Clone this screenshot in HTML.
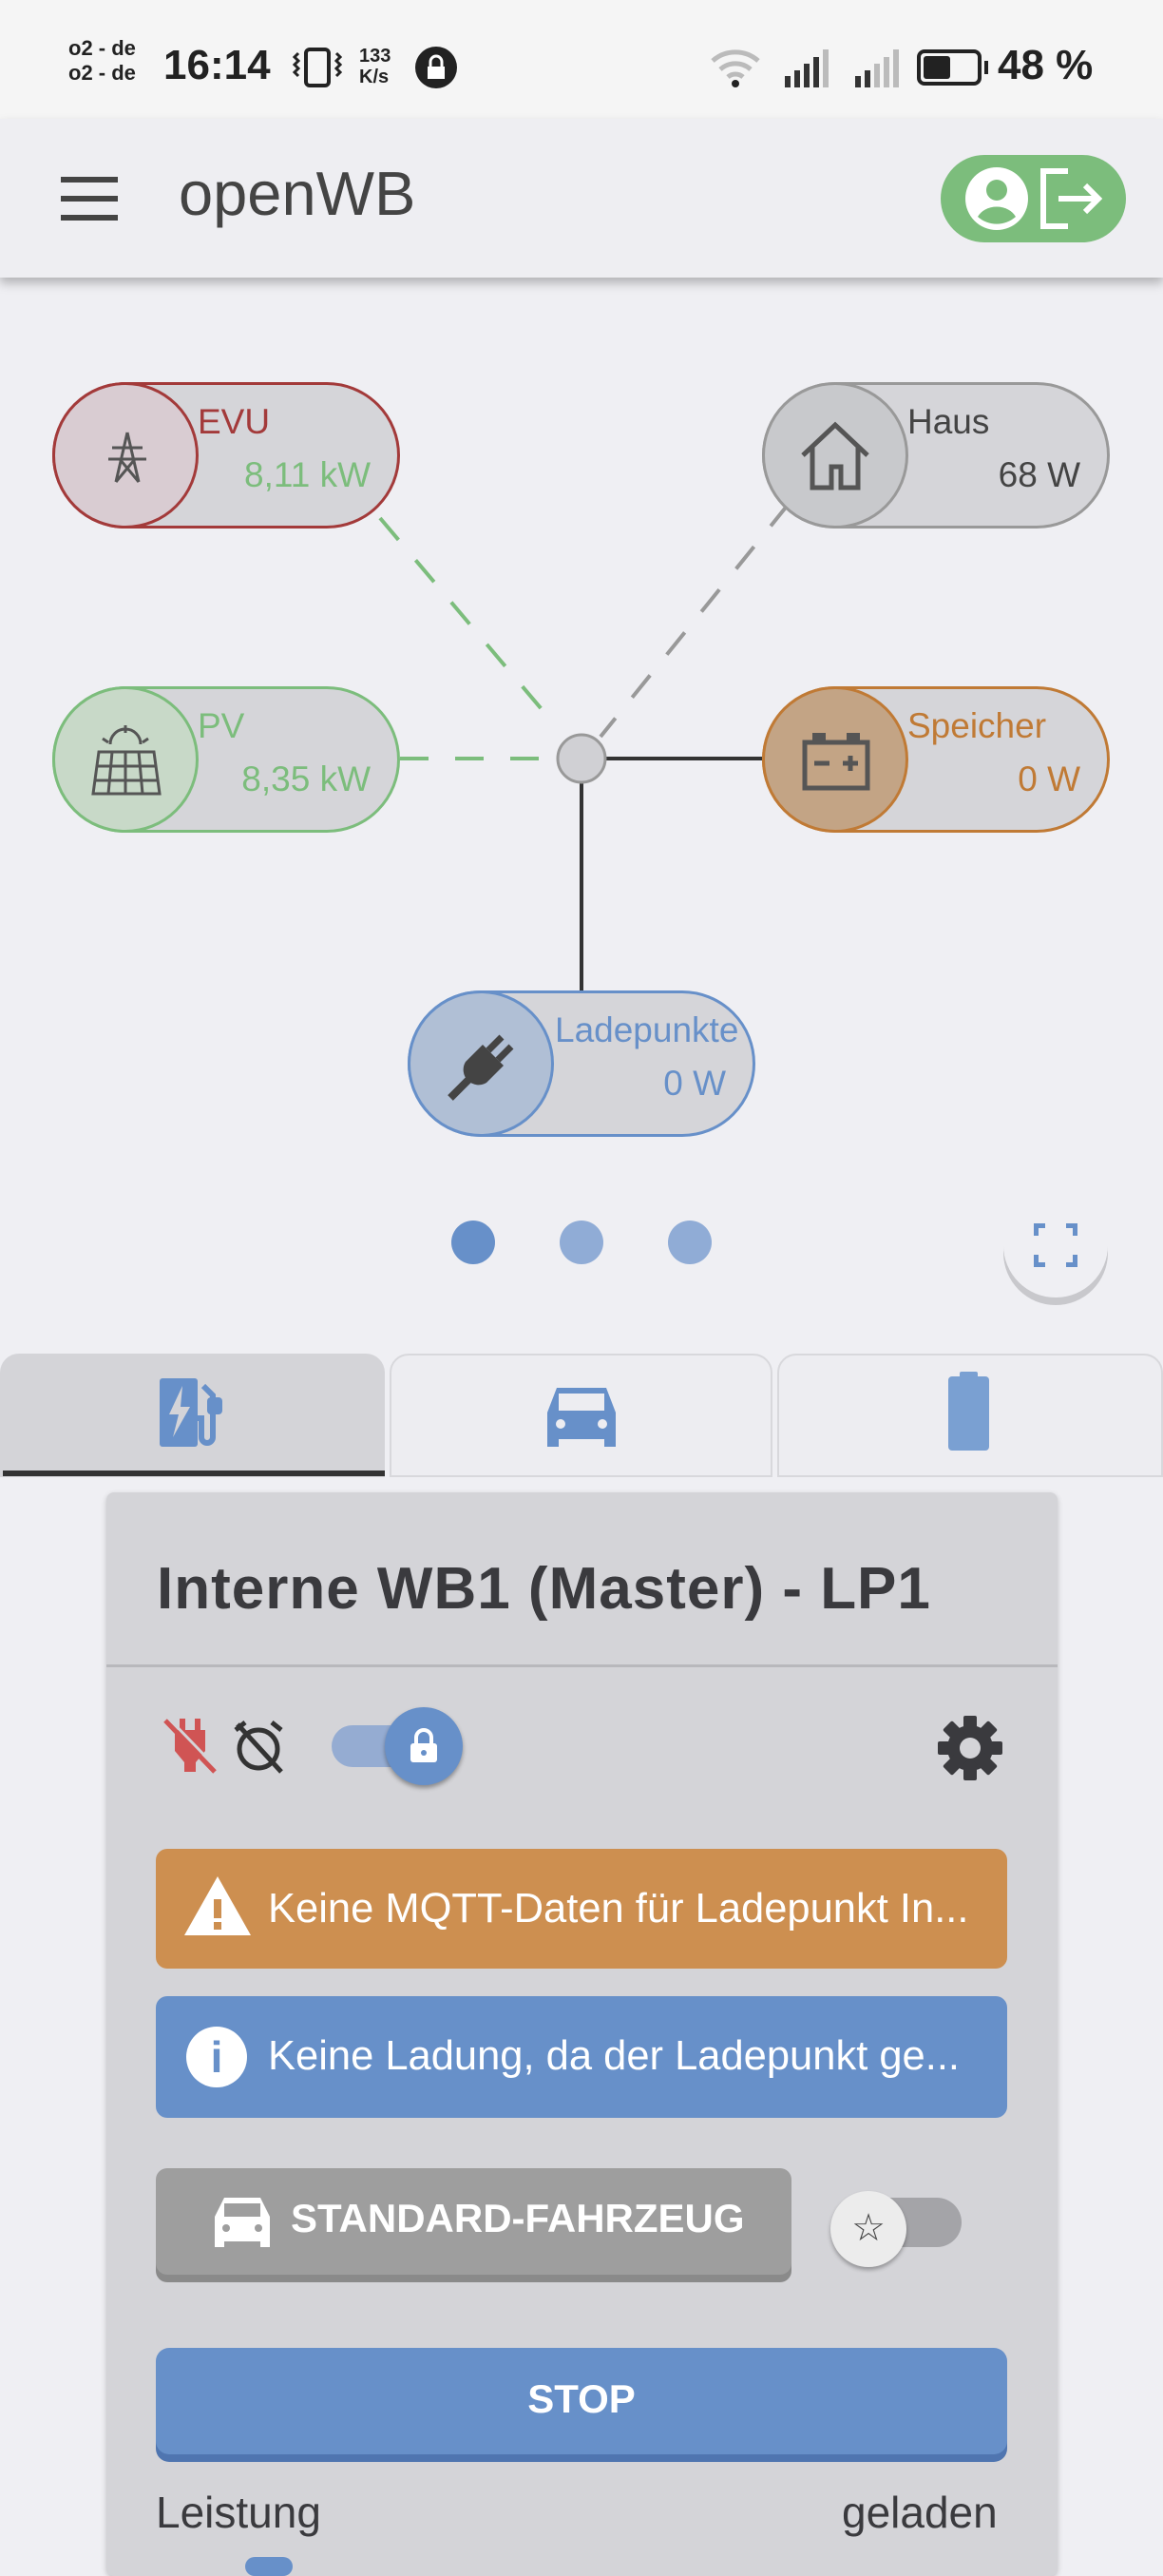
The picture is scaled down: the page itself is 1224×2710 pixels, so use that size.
<!DOCTYPE html>
<html><head><meta charset="utf-8"><style>
*{margin:0;padding:0;box-sizing:border-box}
body{width:1224px;height:2700px;overflow:hidden;background:#efeff3;font-family:"Liberation Sans",sans-serif;position:relative}
.abs{position:absolute}
.node{position:absolute;width:366px;height:154px;border-radius:77px;background:#d5d5d9;border:3px solid}
.node .c{position:absolute;left:-3px;top:-3px;width:154px;height:154px;border-radius:50%;border:3px solid}
.node .t{position:absolute;left:150px;top:18px;font-size:37px}
.node .v{position:absolute;right:28px;top:74px;font-size:37px}
.node svg{position:absolute}
.dot{position:absolute;width:46px;height:46px;border-radius:50%;top:1284px}
</style></head><body>
<!-- status bar -->
<div class="abs" style="left:0;top:0;width:1224px;height:125px;background:#f5f5f5"></div>
<div class="abs" style="left:72px;top:38px;font-size:22px;font-weight:bold;color:#222;line-height:26px">o2 - de<br>o2 - de</div>
<div class="abs" style="left:172px;top:44px;font-size:44px;font-weight:bold;color:#222">16:14</div>
<svg class="abs" style="left:308px;top:48px" width="52" height="46"><rect x="14" y="4" width="24" height="38" rx="4" fill="none" stroke="#222" stroke-width="4"/><path d="M6 8 l-4 4 4 4 -4 4 4 4 -4 4 4 4 M46 8 l4 4 -4 4 4 4 -4 4 4 4 -4 4" stroke="#222" stroke-width="3" fill="none"/></svg>
<div class="abs" style="left:378px;top:48px;font-size:20px;font-weight:bold;color:#222;line-height:22px">133<br>K/s</div>
<svg class="abs" style="left:436px;top:48px" width="46" height="46"><circle cx="23" cy="23" r="22" fill="#222"/><rect x="14" y="22" width="18" height="13" fill="#fff"/><path d="M17 22 v-5 a6 6 0 0 1 12 0 v5" stroke="#fff" stroke-width="3" fill="none"/></svg>
<svg class="abs" style="left:746px;top:48px" width="60" height="46"><path d="M4 16 a36 36 0 0 1 48 0 M12 25 a24 24 0 0 1 32 0 M20 33 a12 12 0 0 1 16 0" stroke="#bbb" stroke-width="5" fill="none"/><circle cx="28" cy="40" r="4" fill="#222"/></svg>
<svg class="abs" style="left:824px;top:50px" width="50" height="44"><rect x="2" y="30" width="6" height="12" fill="#333"/><rect x="12" y="24" width="6" height="18" fill="#333"/><rect x="22" y="17" width="6" height="25" fill="#333"/><rect x="32" y="10" width="6" height="32" fill="#333"/><rect x="42" y="2" width="6" height="40" fill="#bbb"/></svg>
<svg class="abs" style="left:898px;top:50px" width="50" height="44"><rect x="2" y="30" width="6" height="12" fill="#333"/><rect x="12" y="24" width="6" height="18" fill="#333"/><rect x="22" y="17" width="6" height="25" fill="#bbb"/><rect x="32" y="10" width="6" height="32" fill="#bbb"/><rect x="42" y="2" width="6" height="40" fill="#bbb"/></svg>
<div class="abs" style="left:965px;top:52px;width:68px;height:38px;border:4px solid #222;border-radius:8px"></div>
<div class="abs" style="left:972px;top:59px;width:28px;height:24px;background:#222;border-radius:3px"></div>
<div class="abs" style="left:1036px;top:64px;width:4px;height:14px;background:#222"></div>
<div class="abs" style="left:1050px;top:44px;font-size:44px;font-weight:bold;color:#222">48 %</div>
<!-- app bar -->
<div class="abs" style="left:0;top:125px;width:1224px;height:167px;background:#eeeef2;box-shadow:0 6px 10px rgba(0,0,0,0.25)"></div>
<div class="abs" style="left:64px;top:186px;width:60px;height:6px;background:#444"></div>
<div class="abs" style="left:64px;top:206px;width:60px;height:6px;background:#444"></div>
<div class="abs" style="left:64px;top:226px;width:60px;height:6px;background:#444"></div>
<div class="abs" style="left:188px;top:166px;font-size:65px;color:#444">openWB</div>
<div class="abs" style="left:990px;top:163px;width:195px;height:92px;border-radius:46px;background:#7cbd7c"></div>
<svg class="abs" style="left:1014px;top:174px" width="70" height="70"><circle cx="35" cy="35" r="33" fill="#fff"/><circle cx="35" cy="26" r="11" fill="#7cbd7c"/><path d="M15 54 a22 18 0 0 1 40 0 a30 30 0 0 1 -40 0z" fill="#7cbd7c"/></svg>
<svg class="abs" style="left:1094px;top:176px" width="70" height="66"><path d="M30 4 H4 V62 H30" stroke="#fff" stroke-width="6" fill="none"/><path d="M20 33 H62 M48 19 L62 33 48 47" stroke="#fff" stroke-width="6" fill="none"/></svg>
<!-- diagram lines -->
<svg class="abs" style="left:0;top:0" width="1224" height="1400">
<line x1="400" y1="545" x2="575" y2="752" stroke="#7cbd7c" stroke-width="4" stroke-dasharray="30,28"/>
<line x1="830" y1="530" x2="632" y2="775" stroke="#999" stroke-width="4" stroke-dasharray="30,28"/>
<line x1="421" y1="798" x2="587" y2="798" stroke="#7cbd7c" stroke-width="4" stroke-dasharray="30,28"/>
<line x1="637" y1="798" x2="802" y2="798" stroke="#333" stroke-width="4"/>
<line x1="612" y1="823" x2="612" y2="1042" stroke="#333" stroke-width="4"/>
<circle cx="612" cy="798" r="25" fill="#d0d0d4" stroke="#999" stroke-width="3"/>
</svg>
<div class="node" style="left:55px;top:402px;border-color:#a33a3a"><div class="c" style="border-color:#a33a3a;background:#d9ccd2"></div>
<svg style="left:52px;top:48px" width="48" height="56"><path d="M24 2 L12 54 M24 2 L36 54 M8 18 H40 M4 30 H44 M16 30 L36 54 M32 30 L12 54" stroke="#555" stroke-width="3" fill="none"/></svg>
<div class="t" style="color:#a33a3a">EVU</div><div class="v" style="color:#7cbd7c">8,11 kW</div></div>
<div class="node" style="left:802px;top:402px;border-color:#999"><div class="c" style="border-color:#999;background:#c8c9cc"></div>
<svg style="left:36px;top:36px" width="76" height="76"><path d="M4 38 L38 6 L72 38 M14 30 V72 H34 V50 H44 V72 H62 V30" stroke="#555" stroke-width="5" fill="none"/></svg>
<div class="t" style="color:#444">Haus</div><div class="v" style="color:#444">68 W</div></div>
<div class="node" style="left:55px;top:722px;border-color:#7cbd7c"><div class="c" style="border-color:#7cbd7c;background:#c8d9c8"></div>
<svg style="left:36px;top:36px" width="78" height="80"><path d="M22 22 a16 16 0 0 1 32 0 M14 16 l6 4 M38 2 v8 M62 16 l-6 4" stroke="#555" stroke-width="3" fill="none"/><path d="M10 30 H68 L74 74 H4 Z M24 30 L20 74 M38 30 V74 M52 30 L56 74 M8 45 H70 M6 60 H72" stroke="#555" stroke-width="3" fill="none"/></svg>
<div class="t" style="color:#7cbd7c">PV</div><div class="v" style="color:#7cbd7c">8,35 kW</div></div>
<div class="node" style="left:802px;top:722px;border-color:#c07a35"><div class="c" style="border-color:#c07a35;background:#c3a485"></div>
<svg style="left:38px;top:44px" width="74" height="64"><rect x="12" y="2" width="14" height="10" fill="#555"/><rect x="48" y="2" width="14" height="10" fill="#555"/><rect x="4" y="12" width="66" height="48" fill="none" stroke="#555" stroke-width="5"/><path d="M14 34 H30 M44 34 H60 M52 26 V42" stroke="#555" stroke-width="5"/></svg>
<div class="t" style="color:#c07a35">Speicher</div><div class="v" style="color:#c07a35">0 W</div></div>
<div class="node" style="left:429px;top:1042px;border-color:#6790c9"><div class="c" style="border-color:#6790c9;background:#b0bfd5"></div>
<svg style="left:36px;top:36px" width="80" height="80"><path d="M40 18 L62 40 L44 58 A16 16 0 0 1 22 36 Z" fill="#444"/><path d="M46 24 L60 10 M56 34 L70 20" stroke="#444" stroke-width="7"/><path d="M28 52 L6 74" stroke="#444" stroke-width="8"/></svg>
<div class="t" style="color:#6790c9;left:152px">Ladepunkte</div><div class="v" style="color:#6790c9">0 W</div></div>
<!-- dots -->
<div class="dot" style="left:475px;background:#6790c9"></div>
<div class="dot" style="left:589px;background:#90acd6"></div>
<div class="dot" style="left:703px;background:#90acd6"></div>
<div class="abs" style="left:1056px;top:1255px;width:110px;height:110px;border-radius:50%;background:#efeff3;box-shadow:0 8px 0 #c8c8cc"></div>
<div class="abs" style="left:1088px;top:1287px;width:46px;height:46px;border:5px solid #6790c9"></div>
<div class="abs" style="left:1100px;top:1280px;width:22px;height:60px;background:#efeff3"></div>
<div class="abs" style="left:1080px;top:1300px;width:62px;height:20px;background:#efeff3"></div>
<!-- tabs -->
<div class="abs" style="left:0;top:1424px;width:405px;height:130px;background:#d4d4d8;border-radius:20px 20px 0 0"></div>
<div class="abs" style="left:3px;top:1547px;width:402px;height:6px;background:#333"></div>
<div class="abs" style="left:410px;top:1424px;width:403px;height:130px;background:#ededf1;border:2px solid #d8d8dc;border-radius:20px 20px 0 0"></div>
<div class="abs" style="left:818px;top:1424px;width:406px;height:130px;background:#ededf1;border:2px solid #d8d8dc;border-radius:20px 20px 0 0"></div>
<svg class="abs" style="left:166px;top:1448px" width="76" height="76"><rect x="2" y="2" width="40" height="72" rx="3" fill="#6790c9"/><path d="M26 10 L12 40 H22 L16 64 L34 32 H24 Z" fill="#d4d4d8"/><path d="M48 10 l10 10 v44 a6 6 0 0 1 -12 0 v-20 h-4" stroke="#6790c9" stroke-width="6" fill="none"/><rect x="52" y="22" width="16" height="18" rx="4" fill="#6790c9"/></svg>
<svg class="abs" style="left:572px;top:1456px" width="80" height="70"><path d="M14 4 H66 L76 30 V66 H64 V58 H16 V66 H4 V30 Z" fill="#6790c9"/><rect x="16" y="10" width="48" height="18" fill="#ededf1"/><circle cx="18" cy="42" r="5" fill="#ededf1"/><circle cx="62" cy="42" r="5" fill="#ededf1"/></svg>
<div class="abs" style="left:1010px;top:1443px;width:19px;height:8px;background:#7aa0d2;border-radius:2px"></div>
<div class="abs" style="left:998px;top:1448px;width:43px;height:78px;background:#7aa0d2;border-radius:4px"></div>
<!-- card -->
<div class="abs" style="left:112px;top:1570px;width:1001px;height:1140px;background:#d4d4d8;border-radius:8px;box-shadow:0 2px 6px rgba(0,0,0,0.2)"></div>
<div class="abs" style="left:165px;top:1636px;font-size:62px;font-weight:bold;color:#3a3a3e;letter-spacing:1px">Interne WB1 (Master) - LP1</div>
<div class="abs" style="left:112px;top:1751px;width:1001px;height:3px;background:#b8b8bc"></div>
<svg class="abs" style="left:170px;top:1806px" width="62" height="62"><path d="M14 14 H46 V36 L36 48 V58 H24 V48 L14 36 Z" fill="#d05454"/><path d="M22 2 V14 M38 2 V14" stroke="#d05454" stroke-width="6"/><path d="M4 4 L56 58" stroke="#d05454" stroke-width="5"/><path d="M8 2 L60 56" stroke="#d4d4d8" stroke-width="3"/></svg>
<svg class="abs" style="left:244px;top:1810px" width="56" height="56"><circle cx="28" cy="30" r="20" fill="none" stroke="#333" stroke-width="5"/><path d="M4 10 l10 -8 M52 10 l-10 -8 M6 4 L52 54" stroke="#333" stroke-width="5"/></svg>
<div class="abs" style="left:349px;top:1815px;width:110px;height:44px;border-radius:22px;background:#95acd2"></div>
<div class="abs" style="left:405px;top:1796px;width:82px;height:82px;border-radius:50%;background:#6790c9;box-shadow:0 3px 5px rgba(0,0,0,0.35)"></div>
<svg class="abs" style="left:428px;top:1818px" width="36" height="38"><path d="M10 16 V10 a8 8 0 0 1 16 0 V16" stroke="#fff" stroke-width="4" fill="none"/><rect x="4" y="16" width="28" height="20" rx="3" fill="#fff"/><circle cx="18" cy="26" r="3" fill="#6790c9"/></svg>
<svg class="abs" style="left:986px;top:1804px" width="70" height="70"><g fill="#3a3a3e" transform="translate(35,35)"><circle r="24"/><rect x="-7" y="-34" width="14" height="68" rx="2"/><rect x="-7" y="-34" width="14" height="68" rx="2" transform="rotate(45)"/><rect x="-7" y="-34" width="14" height="68" rx="2" transform="rotate(90)"/><rect x="-7" y="-34" width="14" height="68" rx="2" transform="rotate(135)"/><circle r="11" fill="#d4d4d8"/></g></svg>
<div class="abs" style="left:164px;top:1945px;width:896px;height:126px;background:#cd8f50;border-radius:12px"></div>
<svg class="abs" style="left:192px;top:1972px" width="74" height="66"><path d="M37 2 L72 64 H2 Z" fill="#fff"/><rect x="33" y="26" width="8" height="20" fill="#cd8f50"/><rect x="33" y="50" width="8" height="8" fill="#cd8f50"/></svg>
<div class="abs" style="left:282px;top:1984px;font-size:43.5px;color:#fff">Keine MQTT-Daten für Ladepunkt In...</div>
<div class="abs" style="left:164px;top:2100px;width:896px;height:128px;background:#6790c9;border-radius:12px"></div>
<div class="abs" style="left:196px;top:2132px;width:64px;height:64px;border-radius:50%;background:#fff;color:#6790c9;font-size:46px;font-weight:bold;text-align:center;line-height:64px">i</div>
<div class="abs" style="left:282px;top:2139px;font-size:43.5px;color:#fff">Keine Ladung, da der Ladepunkt ge...</div>
<div class="abs" style="left:164px;top:2281px;width:669px;height:112px;background:#9e9e9e;border-radius:12px;box-shadow:0 8px 0 #8a8a8a"></div>
<svg class="abs" style="left:224px;top:2310px" width="62" height="56"><path d="M12 2 H50 L60 22 V54 H50 V48 H12 V54 H2 V22 Z" fill="#fff"/><rect x="12" y="8" width="38" height="14" fill="#9e9e9e"/><circle cx="14" cy="34" r="4" fill="#9e9e9e"/><circle cx="48" cy="34" r="4" fill="#9e9e9e"/></svg>
<div class="abs" style="left:306px;top:2310px;font-size:42px;font-weight:bold;color:#fff">STANDARD-FAHRZEUG</div>
<div class="abs" style="left:900px;top:2312px;width:112px;height:52px;border-radius:26px;background:#a4a4a8"></div>
<div class="abs" style="left:874px;top:2305px;width:80px;height:80px;border-radius:50%;background:#ececec;box-shadow:0 3px 4px rgba(0,0,0,0.3);text-align:center;line-height:78px;font-size:40px;color:#444">☆</div>
<div class="abs" style="left:164px;top:2470px;width:896px;height:112px;background:#6790c9;border-radius:14px;box-shadow:0 8px 0 #4f75b0"></div>
<div class="abs" style="left:164px;top:2500px;width:896px;text-align:center;font-size:42px;color:#fff;font-weight:bold">STOP</div>
<div class="abs" style="left:164px;top:2616px;font-size:46px;color:#3a3a3e">Leistung</div>
<div class="abs" style="left:886px;top:2616px;font-size:46px;color:#3a3a3e">geladen</div>
<div class="abs" style="left:258px;top:2690px;width:50px;height:20px;border-radius:10px;background:#6790c9"></div>
</body></html>
